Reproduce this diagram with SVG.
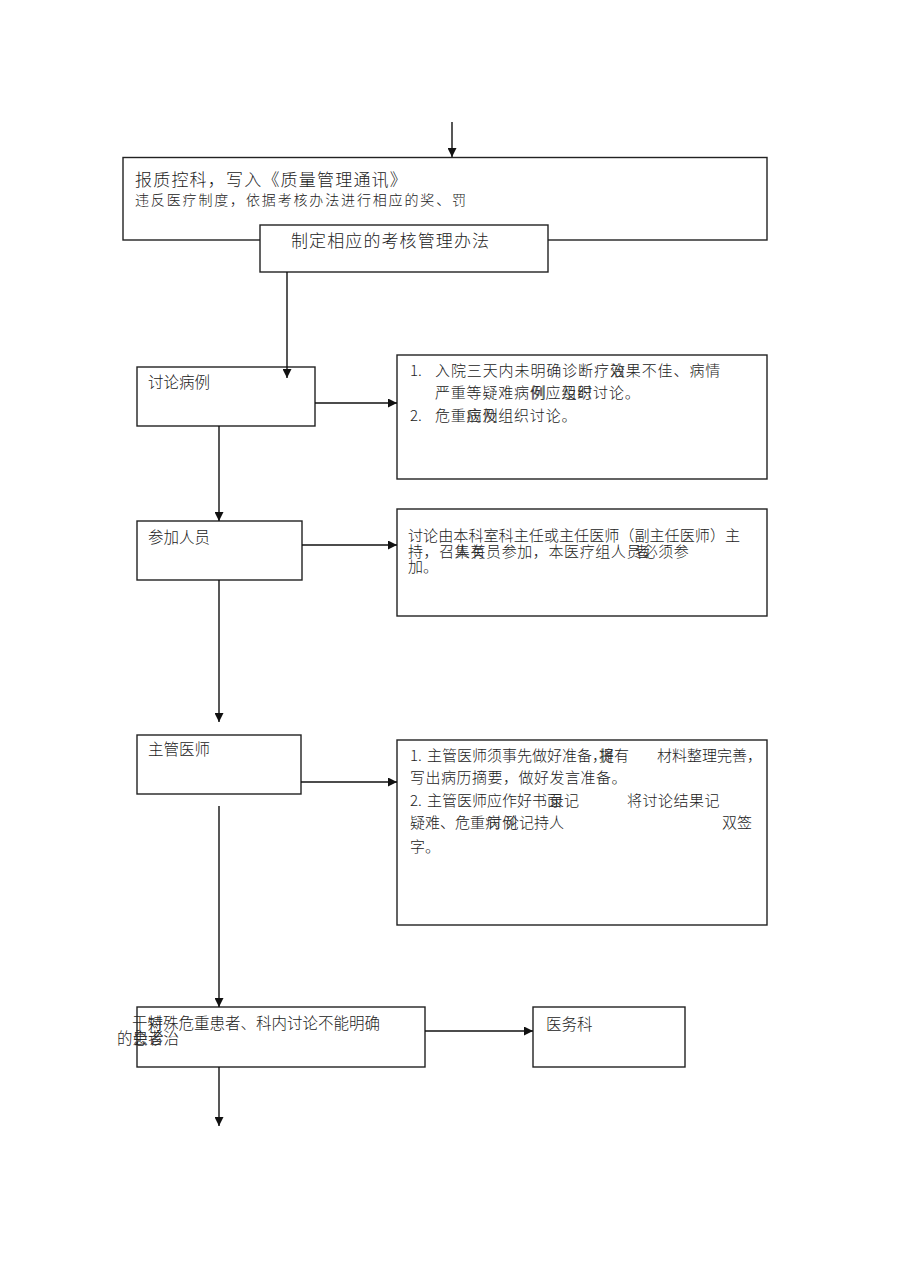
<svg xmlns="http://www.w3.org/2000/svg" width="905" height="1280" viewBox="0 0 905 1280">
<defs>
<marker id="ah" viewBox="0 0 10 10" refX="10" refY="5" markerWidth="10" markerHeight="9" markerUnits="userSpaceOnUse" orient="auto">
<path d="M0,0 L10,5 L0,10 z" fill="#111"/>
</marker>
<style>
.box{fill:#fff;stroke:#222;stroke-width:1.4}
.t{font-family:"Noto Sans CJK SC","Liberation Sans",sans-serif;fill:#222;font-weight:300}
.s15{font-size:15px}
.s155{font-size:15.5px}
.conn line{stroke:#111;stroke-width:1.4;marker-end:url(#ah)}
</style>
</defs>
<rect width="905" height="1280" fill="#fff"/>

<g id="n-report">
<rect class="box" x="123" y="157.5" width="644" height="82.5"/>
<text class="t" x="135" y="186" font-size="17" letter-spacing="1.2">报质控科，写入《质量管理通讯》</text>
<text class="t" x="135" y="205" font-size="14" letter-spacing="1.85">违反医疗制度，依据考核办法进行相应的奖、罚</text>
</g>

<g id="n-rules">
<rect class="box" x="260" y="225" width="288" height="47"/>
<text class="t" x="291" y="247" font-size="17" letter-spacing="1.1">制定相应的考核管理办法</text>
</g>

<g id="n-discuss">
<rect class="box" x="137" y="367" width="178" height="59"/>
<text class="t s155" x="148" y="388">讨论病例</text>
</g>

<g id="n-discuss-note">
<rect class="box" x="397" y="355" width="370" height="124"/>
<text class="t s15" x="410" y="376">1.</text>
<text class="t s15" x="435" y="376" letter-spacing="0.9">入院三天内未明确诊断疗效<tspan dx="-15.9">治</tspan>果不佳、病情</text>
<text class="t s15" x="435" y="398" letter-spacing="0.8">严重等疑难病例<tspan dx="-14.8">例</tspan><tspan dx="-1">应</tspan>及<tspan dx="-15.8">组</tspan>时<tspan dx="-15.8">织</tspan>讨论。</text>
<text class="t s15" x="410" y="421">2.</text>
<text class="t s15" x="435" y="421" letter-spacing="0.8">危重病<tspan dx="-15.8">应</tspan>例<tspan dx="-15.8">及</tspan>组织讨论。</text>
</g>

<g id="n-members">
<rect class="box" x="137" y="521" width="165" height="59"/>
<text class="t s155" x="148" y="543">参加人员</text>
</g>

<g id="n-members-note">
<rect class="box" x="397" y="509" width="370" height="107"/>
<text class="t" x="408" y="541" font-size="15.1">讨论由本科室科主任或主任医师（副主任医师）主</text>
<text class="t s15" x="408" y="557" letter-spacing="0.6">持，召集<tspan dx="-15.6">人</tspan>有<tspan dx="-15.6">关</tspan>员参加，本医疗组人员<tspan dx="-7">者</tspan><tspan dx="-8">必</tspan>须参</text>
<text class="t s15" x="408" y="572">加。</text>
</g>

<g id="n-doctor">
<rect class="box" x="137" y="735" width="164" height="59"/>
<text class="t s155" x="148" y="755">主管医师</text>
</g>

<g id="n-doctor-note">
<rect class="box" x="397" y="740" width="370" height="185"/>
<text class="t s15" x="410" y="761">1.</text>
<text class="t s15" x="427" y="761">主管医师须事先做好准备，<tspan dx="-8">将</tspan><tspan dx="-15">提</tspan>有</text>
<text class="t s15" x="657" y="761">材料整理完善，</text>
<text class="t s15" x="410" y="783" letter-spacing="0.5">写出病历摘要，做好发言准备。</text>
<text class="t s15" x="410" y="806">2.</text>
<text class="t s15" x="427" y="806">主管医师应作好书面<tspan dx="-13">录</tspan>记</text>
<text class="t s15" x="627" y="806" letter-spacing="0.5">将讨论结果记</text>
<text class="t s15" x="410" y="828">疑难、危重病<tspan dx="-13">讨</tspan>例<tspan dx="-13">论</tspan>记持人</text>
<text class="t s15" x="722" y="828">双签</text>
<text class="t s15" x="410" y="852">字。</text>
</g>

<g id="n-special">
<rect class="box" x="137" y="1007" width="288" height="60"/>
<text class="t s155" x="132" y="1029">于特<tspan dx="-15.5">对</tspan>殊危重患者、科内讨论不能明确</text>
<text class="t s155" x="117" y="1044">的患<tspan dx="-15.5">会</tspan>者<tspan dx="-15.5">诊</tspan>治</text>
</g>

<g id="n-medical">
<rect class="box" x="533" y="1007" width="152" height="60"/>
<text class="t s155" x="546" y="1030">医务科</text>
</g>

<g id="connectors" class="conn">
<line x1="452" y1="122" x2="452" y2="157"/>
<line x1="287" y1="272" x2="287" y2="378"/>
<line x1="315" y1="403" x2="397" y2="403"/>
<line x1="219" y1="426" x2="219" y2="521"/>
<line x1="302" y1="545" x2="397" y2="545"/>
<line x1="219" y1="580" x2="219" y2="722"/>
<line x1="301" y1="782" x2="397" y2="782"/>
<line x1="219" y1="806" x2="219" y2="1007"/>
<line x1="425" y1="1031" x2="533" y2="1031"/>
<line x1="219" y1="1067" x2="219" y2="1126"/>
</g>
</svg>
